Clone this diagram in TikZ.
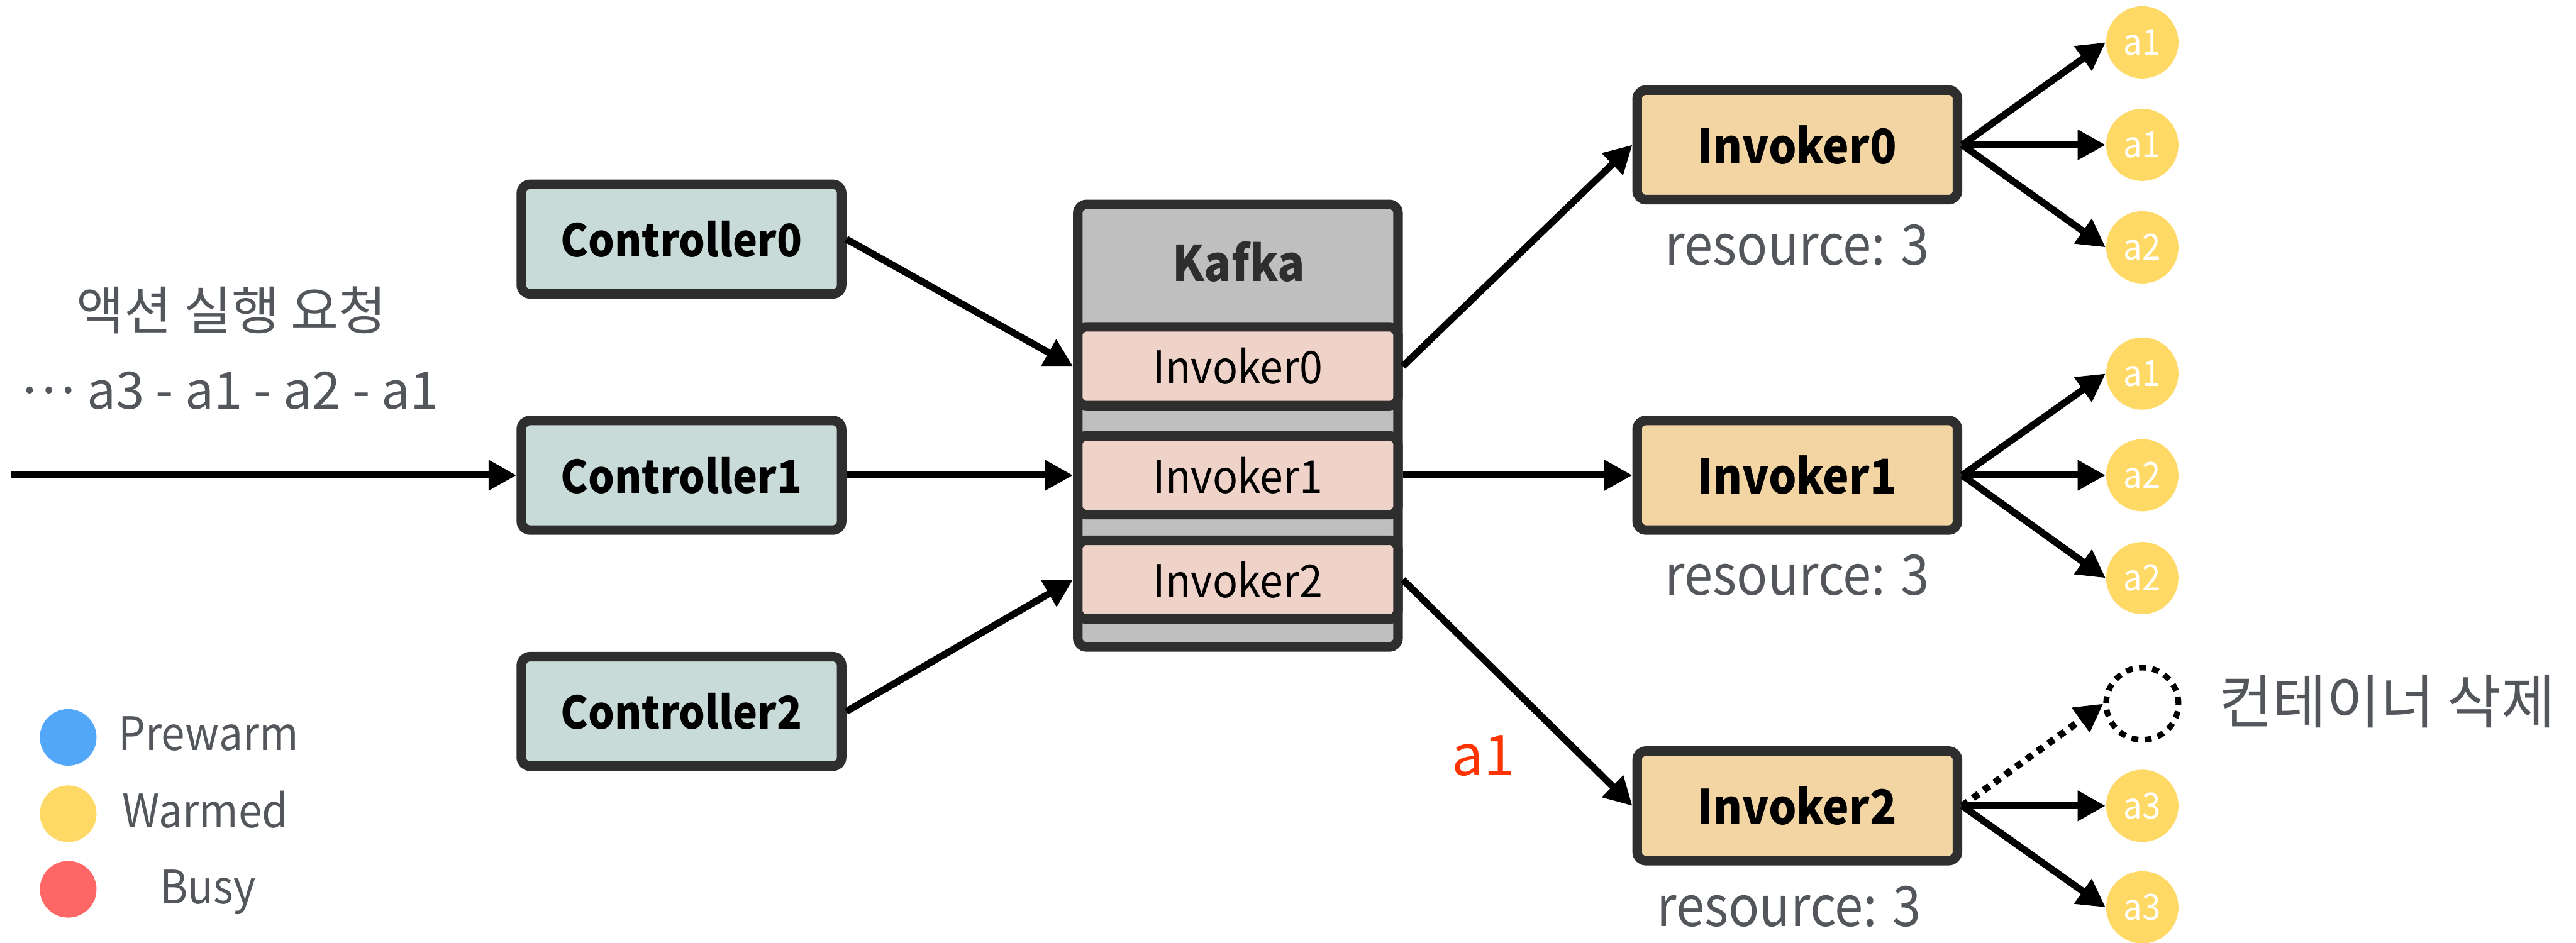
\documentclass[tikz,border=0pt]{standalone}
\usepackage{fontspec}
\setmainfont{Noto Sans CJK KR}
\newfontfamily\cond{Noto Sans CJK KR}[FakeStretch=0.92]
\usetikzlibrary{arrows.meta}
\definecolor{bordc}{HTML}{2E2E2E}
\definecolor{ctrlfill}{HTML}{C9DBD8}
\definecolor{kafkafill}{HTML}{BFBFBF}
\definecolor{stripfill}{HTML}{F0D3C8}
\definecolor{invfill}{HTML}{F3D5A4}
\definecolor{warm}{HTML}{FFD966}
\definecolor{prew}{HTML}{52A7F9}
\definecolor{busyc}{HTML}{FF6666}
\definecolor{txtgray}{HTML}{53575C}
\definecolor{redlab}{HTML}{FF3300}
\newcommand{\fs}[1]{\fontsize{#1}{#1}\selectfont}
\begin{document}
\begin{tikzpicture}[x=0.02cm,y=-0.02cm,
  box/.style={draw=bordc, line width=3.3pt, rounded corners=3pt, minimum width=3.9cm, minimum height=1.334cm, inner sep=0pt},
  ctrl/.style={box, fill=ctrlfill, font=\cond\bfseries\fs{15.6}},
  invbox/.style={box, fill=invfill, font=\cond\bfseries\fs{16.6}},
  kafkabox/.style={box, fill=kafkafill, minimum height=5.39cm},
  strip/.style={box, fill=stripfill, minimum height=0.96cm, font=\cond\fs{15.7}},
  cont/.style={circle, fill=warm, minimum size=0.88cm, inner sep=0pt, text=white, font=\cond\fs{12.5}},
  ghost/.style={circle, draw=black, line width=2pt, dash pattern=on 2.4pt off 2.2pt, minimum size=0.88cm, inner sep=0pt},
  legdot/.style={circle, minimum size=0.69cm, inner sep=0pt},
  gtext/.style={text=txtgray, inner sep=0pt},
  arr/.style={-{Triangle[length=0.34cm,width=0.35cm]}, line width=2.4pt},
  darr/.style={arr, dash pattern=on 2.4pt off 2.2pt}
]
\useasboundingbox (0,0) rectangle (1568,574);

% left texts
\node[gtext, font=\fs{18}] (req) at (141,189) {액션 실행 요청};
\node[gtext, font=\fs{17.8}, anchor=base] (seq) at (140,249) {\raisebox{0.3em}{…} a3 - a1 - a2 - a1};
\coordinate (start) at (7,289.4);

% controllers
\node[ctrl] (c0) at (414.8,145.6) {Controller0};
\node[ctrl] (c1) at (414.8,289.4) {Controller1};
\node[ctrl] (c2) at (414.8,433.2) {Controller2};

% kafka
\node[kafkabox] (kafka) at (753.5,259.2) {};
\node[font=\cond\bfseries\fs{17}, text=bordc, anchor=base, inner sep=0pt] (ktitle) at (754,171.5) {Kafka};
\node[strip] (k0) at (753.5,223) {Invoker0};
\node[strip] (k1) at (753.5,289.4) {Invoker1};
\node[strip] (k2) at (753.5,353) {Invoker2};

% invokers
\node[invbox] (i0) at (1094,88.2) {Invoker0};
\node[invbox] (i1) at (1094,289.4) {Invoker1};
\node[invbox] (i2) at (1094,490.7) {Invoker2};
\node[gtext, font=\cond\fs{19.3}, anchor=base] (r0) at (1094,161.5) {resource: 3};
\node[gtext, font=\cond\fs{19.3}, anchor=base] (r1) at (1094,362.5) {resource: 3};
\node[gtext, font=\cond\fs{19.3}, anchor=base] (r2) at (1089,564) {resource: 3};

% containers
\node[cont] (a00) at (1304,25.8) {a1};
\node[cont] (a01) at (1304,88.2) {a1};
\node[cont] (a02) at (1304,150.6) {a2};
\node[cont] (a10) at (1304,227.5) {a1};
\node[cont] (a11) at (1304,289.4) {a2};
\node[cont] (a12) at (1304,352) {a2};
\node[ghost] (a20) at (1304,428.5) {};
\node[cont] (a21) at (1304,490.7) {a3};
\node[cont] (a22) at (1304,552.5) {a3};
\node[gtext, font=\fs{20.3}] (del) at (1453,427) {컨테이너 삭제};

\node[text=redlab, font=\fs{19.5}, anchor=base, inner sep=0pt] (red) at (903,472.3) {a1};

% legend
\node[legdot, fill=prew] (lp) at (41.5,449) {};
\node[legdot, fill=warm] (lw) at (41.5,495.5) {};
\node[legdot, fill=busyc] (lb) at (41.5,541.5) {};
\node[gtext, font=\cond\fs{16}, anchor=base] (tp) at (127,457) {Prewarm};
\node[gtext, font=\cond\fs{16}, anchor=base] (tw) at (125,503.8) {Warmed};
\node[gtext, font=\cond\fs{16}, anchor=base] (tb) at (126.5,550.4) {Busy};

% connectors
\draw[arr] (start) -- (c1.west);
\draw[arr] (c0.east) -- (k0.west);
\draw[arr] (c1.east) -- (k1.west);
\draw[arr] (c2.east) -- (k2.west);
\draw[arr] (k0.east) -- (i0.west);
\draw[arr] (k1.east) -- (i1.west);
\draw[arr] (k2.east) -- (i2.west);
\draw[arr] (i0.east) -- (a00.west);
\draw[arr] (i0.east) -- (a01.west);
\draw[arr] (i0.east) -- (a02.west);
\draw[arr] (i1.east) -- (a10.west);
\draw[arr] (i1.east) -- (a11.west);
\draw[arr] (i1.east) -- (a12.west);
\draw[darr] (i2.east) -- (a20.west);
\draw[arr] (i2.east) -- (a21.west);
\draw[arr] (i2.east) -- (a22.west);
\end{tikzpicture}
\end{document}
